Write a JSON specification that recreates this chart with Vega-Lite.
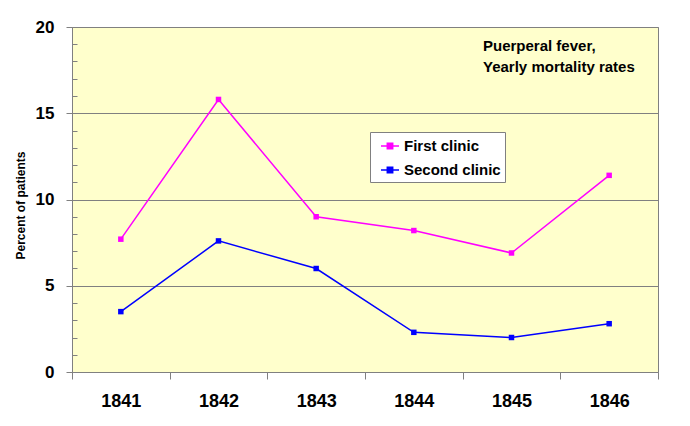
{
  "$schema": "https://vega.github.io/schema/vega-lite/v6.json",
  "width": 586,
  "height": 345,
  "autosize": {"type": "none"},
  "padding": {"left": 72, "top": 27, "right": 32, "bottom": 54},
  "background": "#ffffff",
  "config": {
    "font": "Liberation Sans",
    "view": {"fill": "#FFFFCC", "stroke": "#808080", "strokeWidth": 1}
  },
  "title": {
    "text": ["Puerperal fever,", "Yearly mortality rates"],
    "anchor": "start",
    "orient": "top",
    "dx": 469,
    "dy": 61,
    "fontSize": 15,
    "fontWeight": "bold",
    "lineHeight": 21,
    "color": "#000000"
  },
  "data": {
    "values": [
      {"year": "1841", "clinic": "First clinic", "rate": 7.7},
      {"year": "1842", "clinic": "First clinic", "rate": 15.8},
      {"year": "1843", "clinic": "First clinic", "rate": 9.0},
      {"year": "1844", "clinic": "First clinic", "rate": 8.2},
      {"year": "1845", "clinic": "First clinic", "rate": 6.9},
      {"year": "1846", "clinic": "First clinic", "rate": 11.4},
      {"year": "1841", "clinic": "Second clinic", "rate": 3.5},
      {"year": "1842", "clinic": "Second clinic", "rate": 7.6},
      {"year": "1843", "clinic": "Second clinic", "rate": 6.0},
      {"year": "1844", "clinic": "Second clinic", "rate": 2.3},
      {"year": "1845", "clinic": "Second clinic", "rate": 2.0},
      {"year": "1846", "clinic": "Second clinic", "rate": 2.8}
    ]
  },
  "mark": {
    "type": "line",
    "strokeWidth": 1.5,
    "point": {"filled": true, "shape": "square", "size": 30}
  },
  "encoding": {
    "x": {
      "field": "year",
      "type": "ordinal",
      "bandPosition": 0.5,
      "scale": {"type": "band", "paddingInner": 0, "paddingOuter": 0},
      "axis": {
        "title": null,
        "labelAngle": 0,
        "labelFontSize": 18,
        "labelFontWeight": "bold",
        "labelColor": "#000000",
        "labelPadding": 13,
        "tickBand": "extent",
        "tickSize": 7,
        "tickColor": "#808080",
        "domainColor": "#808080",
        "grid": false
      }
    },
    "y": {
      "field": "rate",
      "type": "quantitative",
      "scale": {"domain": [0, 20], "nice": false},
      "axis": {
        "title": "Percent of patients",
        "titleFontSize": 12,
        "titleFontWeight": "bold",
        "titleColor": "#000000",
        "titleX": -52,
        "titleY": 178,
        "titleAngle": -90,
        "titleAlign": "center",
        "titleBaseline": "middle",
        "values": [0,1,2,3,4,5,6,7,8,9,10,11,12,13,14,15,16,17,18,19,20],
        "labelExpr": "datum.value % 5 === 0 ? datum.label : ''",
        "labelFontSize": 17,
        "labelFontWeight": "bold",
        "labelColor": "#000000",
        "labelPadding": 12,
        "tickSize": {"condition": {"test": "datum.value % 5 === 0", "value": 6}, "value": -5},
        "tickColor": "#808080",
        "domainColor": "#808080",
        "grid": true,
        "gridColor": "#808080",
        "gridOpacity": {"condition": {"test": "datum.value % 5 === 0 && datum.value > 0", "value": 1}, "value": 0}
      }
    },
    "color": {
      "field": "clinic",
      "type": "nominal",
      "scale": {"domain": ["First clinic", "Second clinic"], "range": ["#FF00FF", "#0000FF"]},
      "legend": {
        "title": null,
        "orient": "none",
        "legendX": 298,
        "legendY": 105,
        "strokeColor": "#808080",
        "fillColor": "#ffffff",
        "padding": 4,
        "rowPadding": 6,
        "symbolOffset": 6,
        "labelFontSize": 15,
        "labelFontWeight": "bold",
        "labelColor": "#000000",
        "symbolType": "M-1,0H1M-0.3,-0.3H0.3V0.3H-0.3Z",
        "symbolSize": 324,
        "symbolStrokeWidth": 1.5,
        "labelOffset": 4
      }
    }
  }
}
